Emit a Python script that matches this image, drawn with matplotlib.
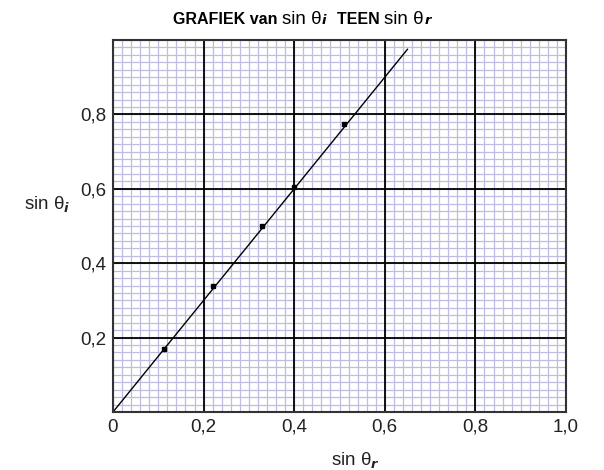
import matplotlib.pyplot as plt
import numpy as np

plt.rcParams['font.family'] = ['Liberation Sans', 'DejaVu Sans']

# measured points (sin theta_r, sin theta_i)
sin_r = [0.113, 0.221, 0.330, 0.400, 0.511]
sin_i = [0.169, 0.340, 0.500, 0.604, 0.774]

# best-fit line drawn on the sheet
line_x = [0.0, 0.65]
line_y = [0.0, 0.975]

x_ticks = [0, 0.2, 0.4, 0.6, 0.8, 1.0]
x_labels = ['0', '0,2', '0,4', '0,6', '0,8', '1,0']
y_ticks = [0.2, 0.4, 0.6, 0.8]
y_labels = ['0,2', '0,4', '0,6', '0,8']

fig = plt.figure(figsize=(6.04, 4.70), dpi=100)
ax = fig.add_axes([113 / 604, 1 - 412 / 470, 453 / 604, 372 / 470])

ax.set_xlim(0, 1.0)
ax.set_ylim(0, 1.0)

# graph paper
minor = np.arange(0, 1.0001, 0.02)
for v in minor:
    ax.axvline(v, color='#bdbde3', lw=0.9, zorder=0)
    ax.axhline(v, color='#bdbde3', lw=0.9, zorder=0)
for v in x_ticks[1:-1]:
    ax.axvline(v, color='black', lw=1.3, zorder=1)
for v in y_ticks:
    ax.axhline(v, color='black', lw=1.3, zorder=1)

ax.plot(line_x, line_y, color='black', lw=1.0, zorder=2)
ax.plot(sin_r, sin_i, 's', color='black', ms=3.5, zorder=3)

ax.set_xticks(x_ticks)
ax.set_xticklabels(x_labels, fontsize=13.5, color='#222222')
ax.set_yticks(y_ticks)
ax.set_yticklabels(y_labels, fontsize=13.5, color='#222222')
ax.tick_params(length=0, pad=5)
for s in ax.spines.values():
    s.set_linewidth(1.5)
    s.set_color('#333333')

ax.set_xlabel(r'sin θ$_{\mathbfit{r}}$', fontsize=13.5, color='#222222')
ax.xaxis.set_label_coords(0.535, -0.105)
ax.set_ylabel(r'sin θ$_{\mathbfit{i}}$', fontsize=13.5, color='#222222', rotation=0)
ax.yaxis.set_label_coords(-0.145, 0.53)

# title made of bold and regular pieces
pieces = [('GRAFIEK van ', 'bold', 11.5), ('sin θ', 'normal', 13.5), (r'$_{\mathbfit{i}}$', 'bold', 13.5),
          ('  TEEN ', 'bold', 11.5), ('sin θ', 'normal', 13.5), (r'$_{\mathbfit{r}}$', 'bold', 13.5)]
renderer = fig.canvas.get_renderer()
texts = []
x = 0.0
for s, w, fs in pieces:
    t = fig.text(x, 1 - 19 / 470, s, fontsize=fs, fontweight=w, va='center', ha='left')
    w_px = t.get_window_extent(renderer).width
    texts.append((t, w_px))
    x += w_px / fig.bbox.width
total = x
start = 303 / 604 - total / 2
x = start
for t, w_px in texts:
    t.set_x(x)
    x += w_px / fig.bbox.width

fig.savefig('out.png', dpi=100)
